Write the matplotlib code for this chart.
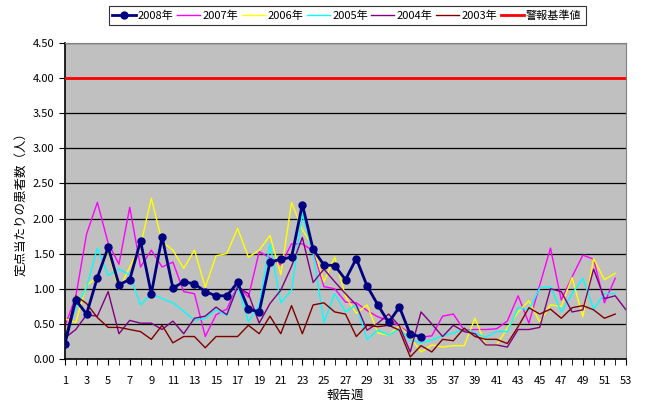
import numpy as np
import matplotlib
matplotlib.use("Agg")
import matplotlib.pyplot as plt

plt.rcParams['font.family'] = ['Noto Sans CJK JP', 'DejaVu Sans']

weeks = np.arange(1, 54)

# values (per-sentinel patients by week)
y2008 = [0.22, 0.84, 0.64, 1.16, 1.59, 1.06, 1.13, 1.68, 0.93, 1.74,
         1.01, 1.10, 1.07, 0.96, 0.90, 0.90, 1.09, 0.71, 0.67, 1.38,
         1.42, 1.45, 2.20, 1.56, 1.34, 1.33, 1.13, 1.43, 1.04, 0.77,
         0.52, 0.74, 0.35, 0.32]
y2007 = [0.47, 0.89, 1.78, 2.23, 1.65, 1.35, 2.16, 1.31, 1.55, 1.31,
         1.38, 0.96, 0.93, 0.32, 0.63, 0.71, 1.05, 0.88, 1.53, 1.44,
         1.34, 1.64, 1.64, 1.54, 1.03, 1.00, 0.81, 0.80, 0.69, 0.60,
         0.55, 0.47, 0.36, 0.31, 0.33, 0.61, 0.64, 0.41, 0.42, 0.42,
         0.43, 0.54, 0.90, 0.51, 1.05, 1.58, 0.84, 1.17, 1.48, 1.42,
         0.80, 1.15]
y2006 = [0.57, 0.52, 1.05, 1.17, 1.53, 0.99, 1.31, 1.61, 2.29, 1.67,
         1.55, 1.29, 1.55, 1.02, 1.47, 1.50, 1.86, 1.45, 1.55, 1.76,
         1.20, 2.23, 1.84, 1.60, 1.10, 1.45, 0.89, 0.65, 0.77, 0.37,
         0.34, 0.47, 0.31, 0.10, 0.20, 0.17, 0.19, 0.19, 0.58, 0.20,
         0.20, 0.44, 0.67, 0.83, 0.53, 0.77, 0.75, 1.16, 0.60, 1.43,
         1.13, 1.22]
y2005 = [0.30, 0.72, 1.02, 1.58, 1.19, 1.28, 1.20, 0.77, 0.93, 0.86,
         0.80, 0.68, 0.55, 0.58, 0.70, 0.62, 1.05, 0.53, 0.77, 1.64,
         0.80, 0.98, 2.07, 1.50, 0.52, 0.93, 0.67, 0.77, 0.28, 0.41,
         0.34, 0.43, 0.27, 0.23, 0.27, 0.33, 0.37, 0.43, 0.37, 0.31,
         0.39, 0.39, 0.73, 0.70, 1.01, 1.03, 0.67, 0.93, 1.15, 0.71,
         0.93, 0.93]
y2004 = [0.30, 0.42, 0.63, 0.61, 0.96, 0.36, 0.55, 0.51, 0.51, 0.42,
         0.54, 0.36, 0.58, 0.61, 0.74, 0.63, 1.03, 0.93, 0.51, 0.79,
         0.98, 1.32, 1.73, 1.09, 1.28, 1.10, 0.93, 0.77, 0.41, 0.51,
         0.64, 0.47, 0.10, 0.67, 0.50, 0.32, 0.48, 0.39, 0.36, 0.20,
         0.20, 0.17, 0.42, 0.42, 0.45, 1.00, 0.96, 0.67, 0.70, 1.28,
         0.86, 0.90, 0.70]
y2003 = [0.28, 0.90, 0.79, 0.59, 0.45, 0.45, 0.42, 0.39, 0.28, 0.48,
         0.23, 0.32, 0.32, 0.16, 0.32, 0.32, 0.32, 0.48, 0.36, 0.61,
         0.36, 0.76, 0.36, 0.77, 0.80, 0.67, 0.64, 0.32, 0.48, 0.46,
         0.48, 0.41, 0.03, 0.19, 0.10, 0.28, 0.26, 0.44, 0.32, 0.28,
         0.28, 0.22, 0.46, 0.73, 0.64, 0.71, 0.58, 0.73, 0.76, 0.70,
         0.58, 0.64]
alert_level = 4.0

series = [
    ("2007年", y2007, "#FF00FF"),
    ("2006年", y2006, "#FFFF00"),
    ("2005年", y2005, "#00FFFF"),
    ("2004年", y2004, "#800080"),
    ("2003年", y2003, "#800000"),
]

fig = plt.figure(figsize=(6.5, 4.08), dpi=100)
ax = fig.add_axes([65 / 650, 1 - 359 / 408, 561 / 650, 316 / 408])
ax.set_facecolor("#C0C0C0")

for v in np.arange(0.5, 4.51, 0.5):
    ax.axhline(v, color="black", lw=0.9, zorder=1)

handles = []
for name, vals, col in series:
    h, = ax.plot(weeks[:len(vals)], vals, color=col, lw=1.0, label=name, zorder=2)
    handles.append(h)
h08, = ax.plot(weeks[:len(y2008)], y2008, color="#000080", lw=2, marker="o",
               ms=5, label="2008年", zorder=4)
hal = ax.axhline(alert_level, color="#FF0000", lw=2, label="警報基準値", zorder=3)

ax.set_xlim(1, 53)
ax.set_ylim(0, 4.5)
ax.set_xticks(np.arange(1, 54, 2))
ax.set_xticks(np.arange(1, 54), minor=True)
ax.set_yticks(np.arange(0, 4.51, 0.5))
ax.set_yticklabels([f"{v:.2f}" for v in np.arange(0, 4.51, 0.5)])
ax.tick_params(axis="x", which="both", direction="out", length=4, labelsize=8, pad=8)
ax.tick_params(axis="y", direction="out", length=4, labelsize=8)
for s in ["top", "right"]:
    ax.spines[s].set_color("#808080")
ax.spines["left"].set_linewidth(1.2)
ax.spines["bottom"].set_linewidth(1.2)

ax.set_xlabel("報告週", fontsize=9, labelpad=2)
ax.set_ylabel("定点当たりの患者数（人）", fontsize=9, labelpad=4)

leg = fig.legend([h08] + handles + [hal], ["2008年"] + [s[0] for s in series] + ["警報基準値"],
                 loc="upper center", bbox_to_anchor=(0.534, 0.99), ncol=7,
                 fontsize=8, frameon=True, fancybox=False, edgecolor="black",
                 handlelength=2.1, handletextpad=0.2, columnspacing=0.3,
                 borderpad=0.35, borderaxespad=0.2)
leg.get_frame().set_linewidth(0.8)

fig.savefig("out.png", dpi=100)
